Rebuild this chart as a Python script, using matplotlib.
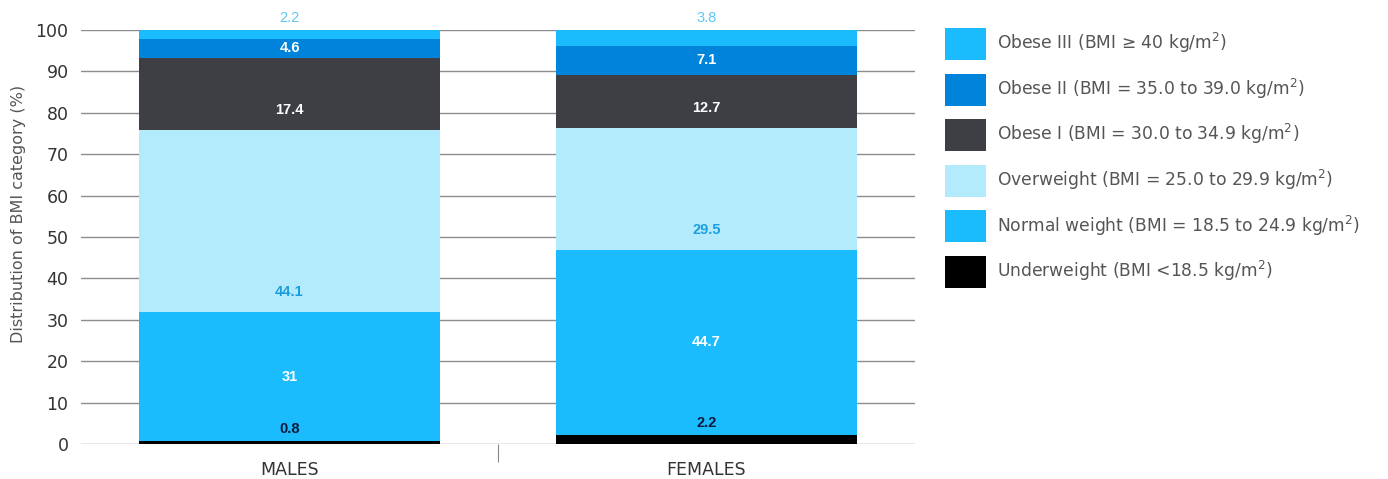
import matplotlib.pyplot as plt
import numpy as np

plt.rcParams['font.family'] = ['DejaVu Sans']

groups = ['MALES', 'FEMALES']
categories = ['Underweight (BMI <18.5 kg/m$^2$)',
              'Normal weight (BMI = 18.5 to 24.9 kg/m$^2$)',
              'Overweight (BMI = 25.0 to 29.9 kg/m$^2$)',
              'Obese I (BMI = 30.0 to 34.9 kg/m$^2$)',
              'Obese II (BMI = 35.0 to 39.0 kg/m$^2$)',
              'Obese III (BMI \u2265 40 kg/m$^2$)']
underweight = [0.8, 2.2]
normal = [31, 44.7]
overweight = [44.1, 29.5]
obese1 = [17.4, 12.7]
obese2 = [4.6, 7.1]
obese3 = [2.2, 3.8]
series = [underweight, normal, overweight, obese1, obese2, obese3]

colors = ['#000000', '#1bbcfd', '#b3ebfd', '#3d3f44', '#0083da', '#1bbcfd']
label_colors = ['#0a1a3a', 'white', '#1a9ee0', 'white', 'white', '#5cc8f5']

fig = plt.figure(figsize=(13.88, 4.79), dpi=100)
ax = fig.add_axes([81/1388, 1-444/479, 834/1388, 414/479])

x = np.arange(len(groups))
bottom = np.zeros(len(groups))
handles = []
for i, vals in enumerate(series):
    vals = np.array(vals, dtype=float)
    b = ax.bar(x, vals, 0.72, bottom=bottom, color=colors[i], zorder=3)
    handles.append(b)
    for j in range(len(groups)):
        if i == 0:
            ypos = bottom[j] + vals[j] + 2.9
        elif i in (2, 3):
            ypos = bottom[j] + 4.8
        elif i == 5:
            ypos = bottom[j] + vals[j] + 2.8
        else:
            ypos = bottom[j] + vals[j] / 2
        ax.text(x[j], ypos, f'{vals[j]:g}', ha='center', va='center',
                fontsize=10.5, family='Liberation Sans',
                fontweight='normal' if i == 5 else 'bold',
                color=label_colors[i], zorder=4, clip_on=False)
    bottom += vals

ax.set_xlim(-0.5, 1.5)
ax.set_ylim(0, 100)
ax.set_yticks(np.arange(0, 101, 10))
ax.yaxis.grid(True, color='#8c8c8c', linewidth=1.0, zorder=0)
ax.set_axisbelow(True)
for s in ax.spines.values():
    s.set_visible(False)
ax.tick_params(axis='y', length=0, labelsize=12.5, pad=9, labelcolor='#333333')
ax.set_xticks(x)
ax.set_xticklabels(groups)
ax.tick_params(axis='x', which='major', length=0, labelsize=12.5, pad=12, labelcolor='#333333')
ax.set_xticks([0.5], minor=True)
ax.tick_params(axis='x', which='minor', length=13, width=0.8, color='#888888')
ax.set_ylabel('Distribution of BMI category (%)', fontsize=11.5, color='#555555')
ax.yaxis.set_label_coords(-0.066, 0.555)

fig.legend(handles[::-1], categories[::-1], loc='upper left',
           bbox_to_anchor=(945/1388, 1-28/479), frameon=False,
           fontsize=12.3, handlelength=2.4, handleheight=2.5,
           labelspacing=0.8, handletextpad=0.65, borderpad=0, borderaxespad=0,
           labelcolor='#555555')

fig.savefig('out.png', dpi=100)
